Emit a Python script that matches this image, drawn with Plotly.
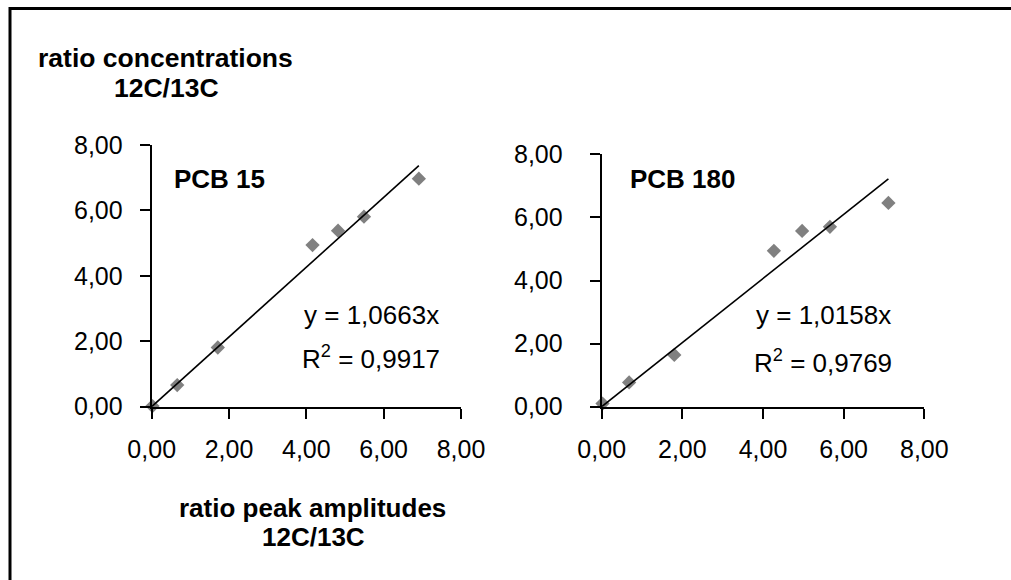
import plotly.graph_objects as go

W, H = 1011, 580

# ---- data ----
pcb15_x = [0.02, 0.66, 1.71, 4.16, 4.82, 5.49, 6.91]
pcb15_y = [0.02, 0.66, 1.81, 4.94, 5.38, 5.81, 6.97]
pcb15_slope = 1.0663
pcb15_r2 = "0,9917"

pcb180_x = [0.02, 0.68, 1.80, 4.27, 4.97, 5.66, 7.11]
pcb180_y = [0.10, 0.77, 1.64, 4.94, 5.57, 5.70, 6.46]
pcb180_slope = 1.0158
pcb180_r2 = "0,9769"

tick_vals = [0, 2, 4, 6, 8]

FONT = "Liberation Sans, Arial, sans-serif"
GRAY = "#808080"

fig = go.Figure()


def add_panel(xs, ys, slope, xa, ya):
    fig.add_trace(go.Scatter(
        x=xs, y=ys, mode="markers", xaxis=xa, yaxis=ya,
        marker=dict(symbol="diamond", size=11, color=GRAY, line=dict(width=0)),
        cliponaxis=False, showlegend=False, hoverinfo="x+y"))
    xmax = max(xs)
    fig.add_trace(go.Scatter(
        x=[0, xmax], y=[0, slope * xmax], mode="lines", xaxis=xa, yaxis=ya,
        line=dict(color="black", width=1.6), cliponaxis=False,
        showlegend=False, hoverinfo="skip"))


add_panel(pcb15_x, pcb15_y, pcb15_slope, "x", "y")
add_panel(pcb180_x, pcb180_y, pcb180_slope, "x2", "y2")


def px_x(v):
    return v / W


def px_y(v):
    return 1 - v / H


axis_common = dict(
    range=[0, 8], tickvals=tick_vals, tickformat=".2f", automargin=False,
    showgrid=False, zeroline=False, showline=True, linecolor="black",
    linewidth=2, ticks="outside", ticklen=10, tickwidth=2, tickcolor="black",
    tickfont=dict(family=FONT, size=25, color="black"), fixedrange=True)

fig.update_layout(
    width=W, height=H, margin=dict(l=0, r=0, t=0, b=0, autoexpand=False),
    paper_bgcolor="white", plot_bgcolor="white", separators=",.",
    xaxis=dict(domain=[px_x(151.7), px_x(461)], anchor="y",
               ticklabelstandoff=9, **axis_common),
    yaxis=dict(domain=[px_y(406.7), px_y(145)], anchor="x",
               ticklabelstandoff=12, **axis_common),
    xaxis2=dict(domain=[px_x(601.7), px_x(924.3)], anchor="y2",
                ticklabelstandoff=9, **axis_common),
    yaxis2=dict(domain=[px_y(406.7), px_y(154.3)], anchor="x2",
                ticklabelstandoff=22, **axis_common),
)


def ann(text, cx, cy, bold=False, size=26):
    fig.add_annotation(
        text=f"<b>{text}</b>" if bold else text,
        x=px_x(cx), y=px_y(cy), xref="paper", yref="paper",
        xanchor="center", yanchor="middle", showarrow=False,
        font=dict(family=FONT, size=size, color="black"))


ann("ratio concentrations", 165.5, 57.5, bold=True, size=26.5)
ann("12C/13C", 166.5, 88, bold=True, size=26.5)
ann("ratio peak amplitudes", 312.5, 508, bold=True)
ann("12C/13C", 313, 536.5, bold=True)
ann("PCB 15", 219.5, 179, bold=True)
ann("PCB 180", 683, 179, bold=True)
ann(f"y = {str(pcb15_slope).replace('.', ',')}x", 371.3, 315)
ann(f"R<sup>2</sup> = {pcb15_r2}", 370.5, 357)
ann(f"y = {str(pcb180_slope).replace('.', ',')}x", 823, 315)
ann(f"R<sup>2</sup> = {pcb180_r2}", 823.4, 361)

# outer frame (right and bottom edges lie beyond the visible area)
fig.add_shape(type="rect", xref="paper", yref="paper",
              x0=px_x(10), x1=1.05, y0=-0.05, y1=px_y(8.5),
              line=dict(color="black", width=3), fillcolor="rgba(0,0,0,0)",
              layer="below")

fig.write_html("out.html",
               config={"displayModeBar": False},
               post_script="document.body.style.margin='0';"
                           "document.body.style.overflow='hidden';")
